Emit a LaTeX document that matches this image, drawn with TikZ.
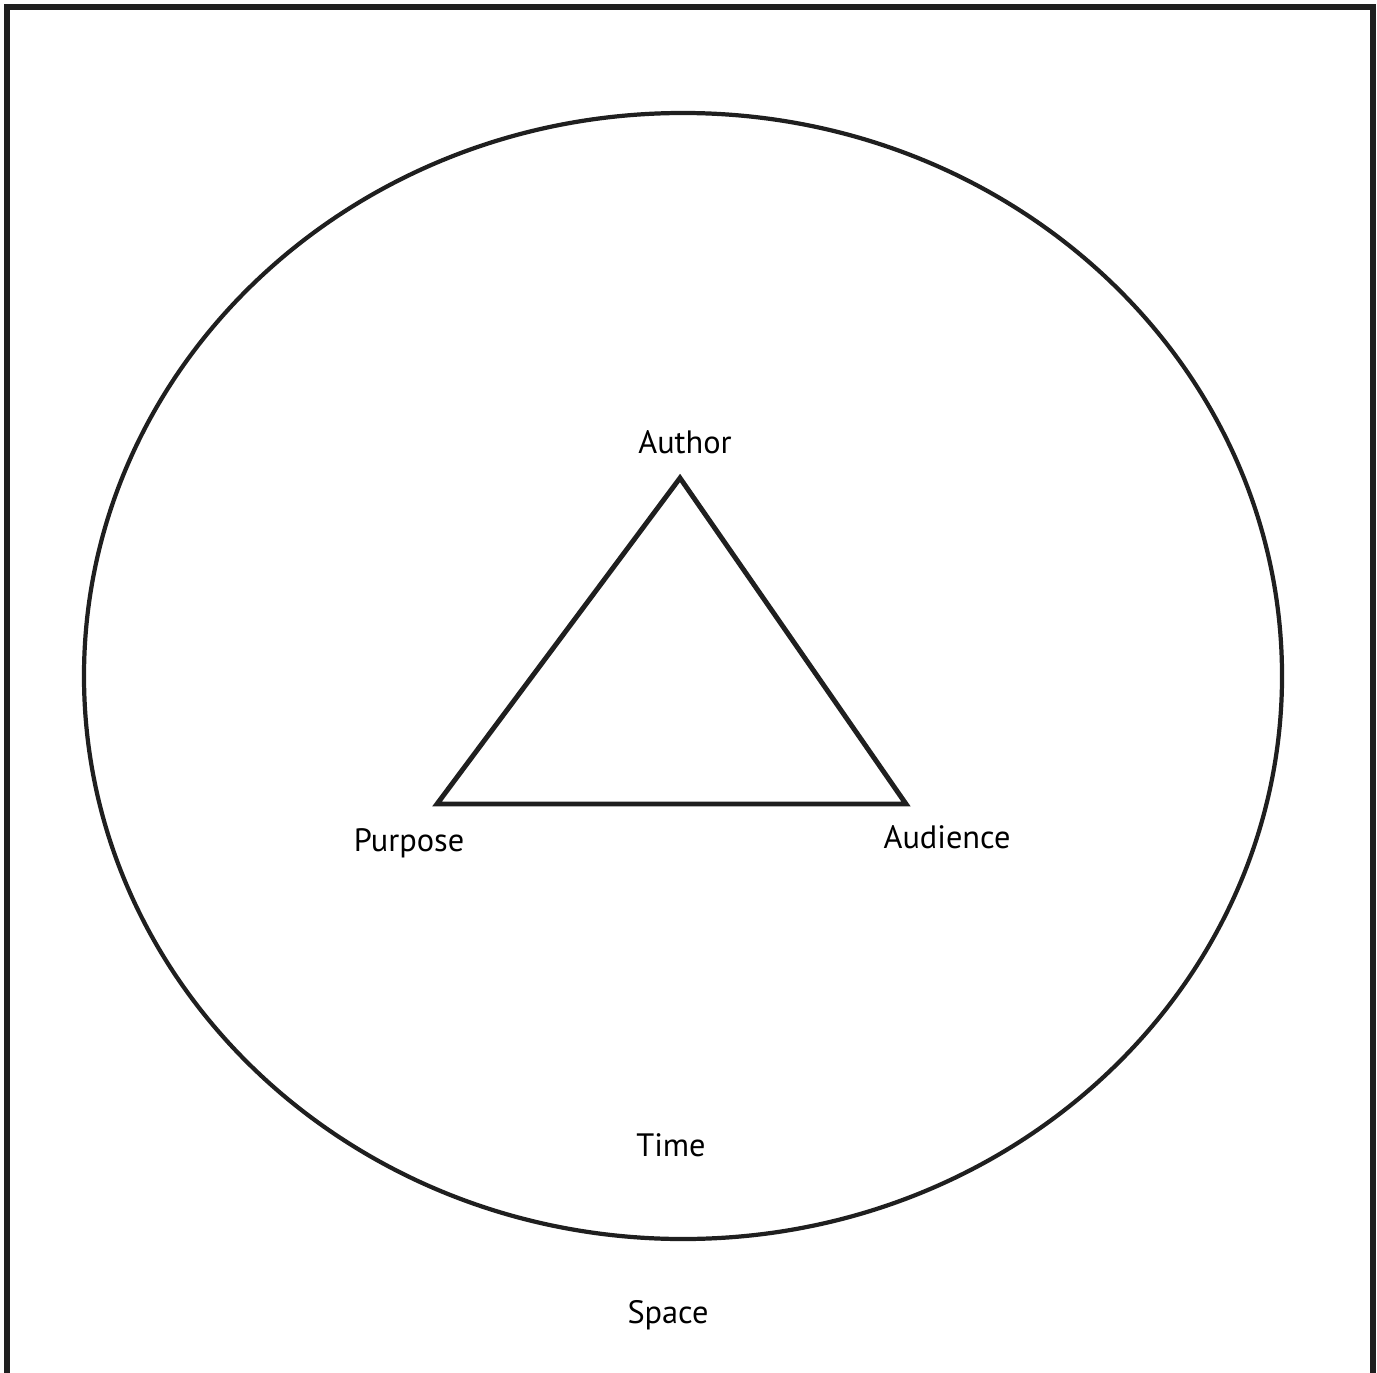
\documentclass[tikz,border=0pt]{standalone}
\usepackage{fontspec}
\setmainfont{PT Sans}
\usepackage{tikz}

\begin{document}
\begin{tikzpicture}[x=0.01cm,y=0.01cm,
    lab/.style={anchor=base,font=\fontsize{9.2}{11}\selectfont,inner sep=0pt}]
\useasboundingbox (0,0) rectangle (1377,1372);
\clip (0,0) rectangle (1377,1372);
\draw[line width=1.7pt,black!88] (7,-20) rectangle (1373,1365);
\draw[line width=1.2pt,black!88] (683,696) ellipse[x radius=599,y radius=563];
\coordinate (author) at (680,894);
\coordinate (purpose) at (437,568);
\coordinate (audience) at (906,568);
\draw[line width=1.4pt,black!88] (author) -- (audience) -- (purpose) -- cycle;
\node[lab] (lauthor) at (685,919) {Author};
\node[lab] (lpurpose) at (409,521) {Purpose};
\node[lab] (laudience) at (947,524) {Audience};
\node[lab] (time) at (671,216) {Time};
\node[lab] (space) at (668,49) {Space};
\end{tikzpicture}
\end{document}
